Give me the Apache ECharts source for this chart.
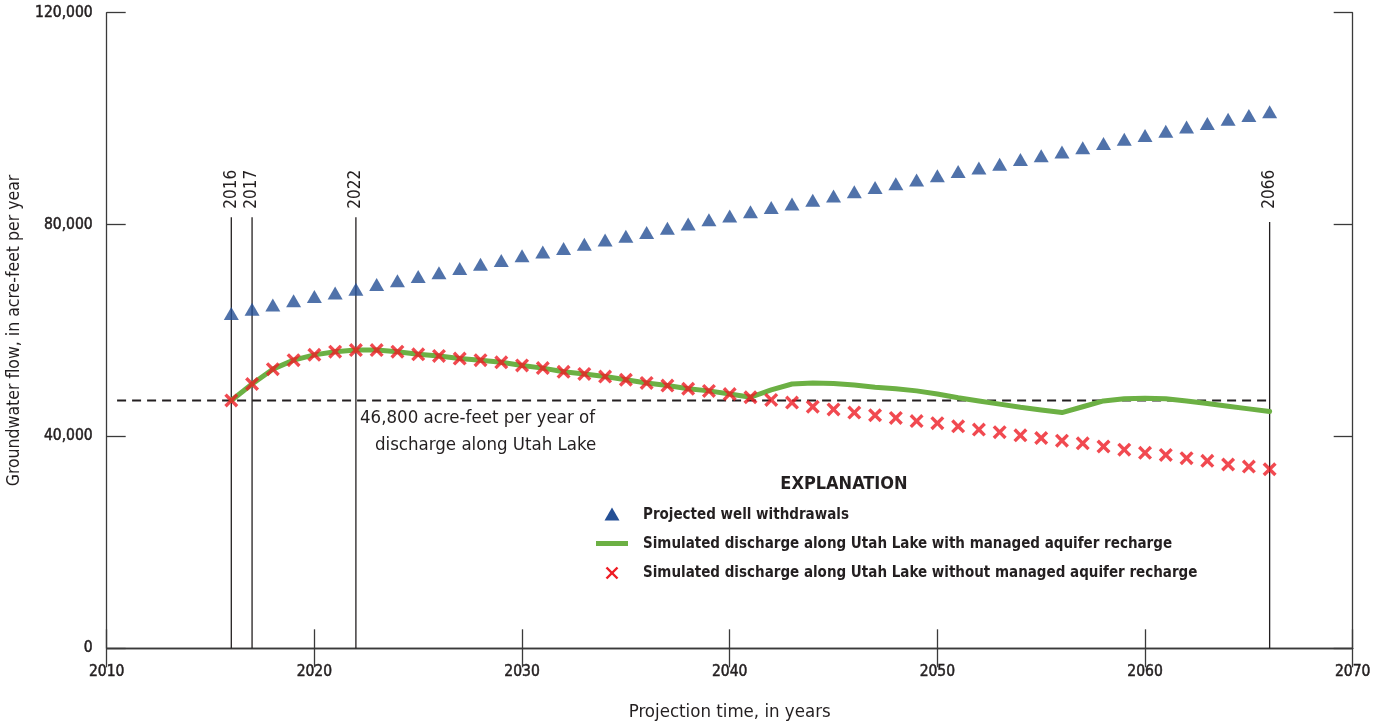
<!DOCTYPE html>
<html>
<head>
<meta charset="utf-8">
<title>Groundwater flow projections</title>
<script src="https://cdn.jsdelivr.net/npm/echarts@6/dist/echarts.min.js"></script>
<style>
  html, body { margin: 0; padding: 0; background: #ffffff; }
  #chart { width: 1389px; height: 727px; }
</style>
</head>
<body>
<div id="chart"></div>
<script>
// Projection years, 2016 through 2066
const years = [];
for (let y = 2016; y <= 2066; y++) years.push(y);

// Projected well withdrawals, acre-feet per year
const withdrawals = [
  63200, 64000, 64800, 65600, 66400, 67100, 67800, 68700, 69400, 70200,
  70900, 71700, 72500, 73200, 74100, 74800, 75500, 76300, 77100, 77800,
  78500, 79300, 80100, 80900, 81600, 82400, 83200, 83900, 84600, 85400,
  86200, 87000, 87700, 88400, 89200, 90000, 90700, 91400, 92300, 93000,
  93700, 94500, 95300, 96100, 96800, 97600, 98400, 99100, 99900, 100600,
  101300
];

// Simulated discharge along Utah Lake with managed aquifer recharge
const withRecharge = [
  46800, 49900, 52700, 54400, 55400, 56000, 56300, 56300, 56000, 55500,
  55200, 54700, 54400, 54000, 53400, 52900, 52200, 51800, 51300, 50700,
  50100, 49600, 49000, 48600, 48000, 47400, 48800, 49900, 50100, 50000,
  49700, 49300, 49000, 48600, 48000, 47300, 46700, 46100, 45500, 45000,
  44500, 45600, 46700, 47100, 47200, 47100, 46700, 46200, 45700, 45200,
  44700
];

// Simulated discharge along Utah Lake without managed aquifer recharge
const withoutRecharge = [
  46800, 49900, 52700, 54400, 55400, 56000, 56300, 56300, 56000, 55500,
  55200, 54700, 54400, 54000, 53400, 52900, 52200, 51800, 51300, 50700,
  50100, 49600, 49000, 48600, 48000, 47400, 46900, 46400, 45600, 45100,
  44500, 44000, 43500, 42900, 42500, 41900, 41300, 40800, 40200, 39700,
  39200, 38700, 38100, 37500, 36900, 36500, 35900, 35400, 34700, 34300,
  33800
];

// Reference discharge level and the span it is drawn over
const referenceDischarge = 46800;
const referenceSpan = [2010.5, 2066];

// Marked years: [year, top of the marker line]
const markedYears = [[2016, 81400], [2017, 81400], [2022, 81400], [2066, 80500]];
const markedLabelBase = 83000;

// Axis ranges and ticks
const xRange = [2010, 2070, 10];
const yRange = [0, 120000, 40000];

const FONT = "'DejaVu Sans Condensed', 'Liberation Sans Narrow', sans-serif";
const INK = '#231f20';
const BLUE = '#244f95';
const RED = '#ee1c24';
const GREEN = '#6cb044';

const pair = (xs, vs) => xs.map((x, i) => [x, vs[i]]);

const chart = echarts.init(document.getElementById('chart'), null, { renderer: 'canvas' });

const axisLineStyle = { show: true, lineStyle: { color: '#3a3a3a', width: 1.3 } };
const tickStyle = { show: true, inside: true, length: 19, lineStyle: { color: '#3a3a3a', width: 1.3 } };
const tickLabel = {
  color: INK, fontFamily: FONT, fontSize: 15.5,
  textBorderColor: INK, textBorderWidth: 0.5
};

const option = {
  animation: false,
  backgroundColor: '#ffffff',
  grid: {
    left: 106.7, right: 36.3, top: 12.7, bottom: 78.7,
    containLabel: false, outerBoundsMode: 'none'
  },
  xAxis: [
    {
      type: 'value', min: xRange[0], max: xRange[1], interval: xRange[2],
      position: 'bottom',
      axisLine: axisLineStyle, axisTick: tickStyle, splitLine: { show: false },
      axisLabel: Object.assign({ formatter: v => String(v), margin: 16 }, tickLabel),
      name: 'Projection time, in years', nameLocation: 'middle', nameGap: 54,
      nameTextStyle: { color: INK, fontFamily: FONT, fontSize: 18.5 }
    },
    {
      type: 'value', min: xRange[0], max: xRange[1], interval: xRange[2],
      position: 'top',
      axisLine: axisLineStyle, axisTick: tickStyle, splitLine: { show: false },
      axisLabel: { show: false }
    }
  ],
  yAxis: [
    {
      type: 'value', min: yRange[0], max: yRange[1], interval: yRange[2],
      position: 'left',
      axisLine: axisLineStyle, axisTick: tickStyle, splitLine: { show: false },
      axisLabel: Object.assign({ margin: 14 }, tickLabel),
      name: 'Groundwater flow, in acre-feet per year', nameLocation: 'middle', nameGap: 74,
      nameTextStyle: { color: INK, fontFamily: FONT, fontSize: 17.5 }
    },
    {
      type: 'value', min: yRange[0], max: yRange[1], interval: yRange[2],
      position: 'right',
      axisLine: axisLineStyle, axisTick: tickStyle, splitLine: { show: false },
      axisLabel: { show: false }
    }
  ],
  series: [
    {
      name: 'Marked years',
      type: 'custom',
      data: markedYears,
      z: 1,
      renderItem: (params, api) => {
        const x = api.value(0);
        const top = api.value(1);
        const p0 = api.coord([x, 0]);
        const p1 = api.coord([x, top]);
        const pl = api.coord([x, markedLabelBase]);
        return {
          type: 'group',
          children: [
            { type: 'line', shape: { x1: p0[0], y1: p0[1], x2: p1[0], y2: p1[1] },
              style: { stroke: INK, lineWidth: 1.3 } },
            { type: 'text', x: pl[0], y: pl[1], rotation: Math.PI / 2,
              style: { text: String(x), textAlign: 'left', textVerticalAlign: 'middle',
                       font: '17px ' + FONT, fill: INK } }
          ]
        };
      }
    },
    {
      name: 'Reference discharge',
      type: 'line',
      data: referenceSpan.map(x => [x, referenceDischarge]),
      symbol: 'none',
      z: 2,
      lineStyle: { color: INK, width: 2, type: [9, 6] }
    },
    {
      name: 'Simulated discharge along Utah Lake with managed aquifer recharge',
      type: 'line',
      data: pair(years, withRecharge),
      symbol: 'none',
      z: 3,
      lineStyle: { color: GREEN, width: 5, cap: 'round', join: 'round' }
    },
    {
      name: 'Simulated discharge along Utah Lake without managed aquifer recharge',
      type: 'scatter',
      data: pair(years, withoutRecharge),
      symbol: 'path://M0,2.4 L2.4,0 L7,4.6 L11.6,0 L14,2.4 L9.4,7 L14,11.6 L11.6,14 L7,9.4 L2.4,14 L0,11.6 L4.6,7 Z',
      symbolSize: 14,
      z: 4,
      itemStyle: { color: RED }
    },
    {
      name: 'Projected well withdrawals',
      type: 'scatter',
      data: pair(years, withdrawals),
      symbol: 'triangle',
      symbolSize: [15, 13],
      z: 4,
      itemStyle: { color: BLUE }
    }
  ],
  graphic: [
    // Note on the reference discharge line
    { type: 'text', left: 360, top: 409,
      style: { text: '46,800 acre-feet per year of', font: '18.5px ' + FONT, fill: INK } },
    { type: 'text', left: 375, top: 436,
      style: { text: 'discharge along Utah Lake', font: '18.5px ' + FONT, fill: INK } },
    // Explanation block
    { type: 'text', x: 844, y: 484,
      style: { text: 'EXPLANATION', font: 'bold 18px ' + FONT, fill: INK, textAlign: 'center', textVerticalAlign: 'middle' } },
    { type: 'polygon', shape: { points: [[604.5, 520.5], [619.5, 520.5], [612, 507.5]] }, style: { fill: BLUE } },
    { type: 'text', x: 643, y: 515,
      style: { text: 'Projected well withdrawals', font: 'bold 15px ' + FONT, fill: INK, textVerticalAlign: 'middle' } },
    { type: 'line', shape: { x1: 596, y1: 543.5, x2: 628, y2: 543.5 }, style: { stroke: GREEN, lineWidth: 5 } },
    { type: 'text', x: 643, y: 544,
      style: { text: 'Simulated discharge along Utah Lake with managed aquifer recharge', font: 'bold 15px ' + FONT, fill: INK, textVerticalAlign: 'middle' } },
    { type: 'line', shape: { x1: 606.5, y1: 567.5, x2: 617.5, y2: 578.5 }, style: { stroke: RED, lineWidth: 2.4 } },
    { type: 'line', shape: { x1: 617.5, y1: 567.5, x2: 606.5, y2: 578.5 }, style: { stroke: RED, lineWidth: 2.4 } },
    { type: 'text', x: 643, y: 573,
      style: { text: 'Simulated discharge along Utah Lake without managed aquifer recharge', font: 'bold 15px ' + FONT, fill: INK, textVerticalAlign: 'middle' } }
  ]
};

chart.setOption(option);
</script>
</body>
</html>
